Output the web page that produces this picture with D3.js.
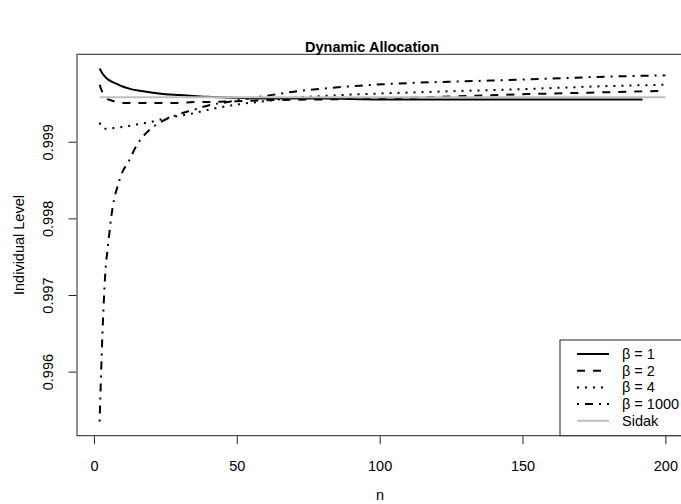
<!DOCTYPE html>
<html><head><meta charset="utf-8">
<script src="https://cdn.jsdelivr.net/npm/d3@7"></script>
<style>body{margin:0;background:#fff}svg{display:block;font-family:"Liberation Sans",Arial,sans-serif}</style>
</head><body><svg id="c" width="681" height="504"></svg>
<script>
const title = "Dynamic Allocation";
const xLabel = "n";
const yLabel = "Individual Level";
const xTicks = [0, 50, 100, 150, 200];
const yTicks = [0.996, 0.997, 0.998, 0.999];

const nBeta1 = [2,3,4,5,6,8,10,13,16,20,25,30,35,40,50,60,80,100,130,160,192];
const vBeta1 = [0.999957,0.999890,0.999845,0.999811,0.999789,0.999755,0.999721,0.999687,0.999665,0.999642,0.999620,0.999609,0.999597,0.999586,0.999575,0.999564,0.999564,0.999553,0.999553,0.999553,0.999553];

const nBeta2 = [2,3,4,5,6,8,10,15,20,25,30,35,40,50,60,80,100,120,150,175,200];
const vBeta2 = [0.999744,0.999642,0.999586,0.999553,0.999541,0.999519,0.999507,0.999507,0.999507,0.999507,0.999507,0.999519,0.999519,0.999530,0.999541,0.999553,0.999564,0.999586,0.999620,0.999642,0.999665];

const nBeta4 = [2,3,4,5,7,10,15,20,25,30,35,40,50,60,70,80,93,110,130,150,175,200];
const vBeta4 = [0.999249,0.999181,0.999170,0.999170,0.999181,0.999193,0.999226,0.999260,0.999305,0.999339,0.999373,0.999418,0.999485,0.999530,0.999575,0.999597,0.999620,0.999642,0.999665,0.999687,0.999721,0.999744];

const nBeta1000 = [2,3,4,5,6,7,8,9,10,12,15,18,23,29,35,40,47,52,58,70,82,93,110,130,150,175,200];
const vBeta1000 = [0.995348,0.996506,0.997293,0.997664,0.998001,0.998237,0.998383,0.998507,0.998608,0.998732,0.998957,0.999103,0.999249,0.999350,0.999418,0.999474,0.999519,0.999553,0.999586,0.999654,0.999699,0.999732,0.999766,0.999789,0.999811,0.999845,0.999867];

const nSidak = [2, 200];
const vSidak = [0.99958, 0.99958];

const seriesNames = ["\u03b2 = 1", "\u03b2 = 2", "\u03b2 = 4", "\u03b2 = 1000", "Sidak"];
const seriesN = [nBeta1, nBeta2, nBeta4, nBeta1000, nSidak];
const seriesV = [vBeta1, vBeta2, vBeta4, vBeta1000, vSidak];
const seriesDash = [null, "8,8", "2,6", "2,6,8,6", null];
const seriesColor = ["#000", "#000", "#000", "#000", "#bebebe"];

const svg = d3.select("#c");
const L = 77, R = 688, T = 54.3, B = 435.7;
const FS = 14.5;

const allN = seriesN.flat(), allV = seriesV.flat();
const [nMin, nMax] = d3.extent(allN), [vMin, vMax] = d3.extent(allV);
const px = (nMax - nMin) * 0.04, py = (vMax - vMin) * 0.04;
const x = d3.scaleLinear().domain([nMin - px, nMax + px]).range([L, R]);
const y = d3.scaleLinear().domain([vMin - py, vMax + py]).range([B, T]);

const line = d3.line().x(d => x(d[0])).y(d => y(d[1])).curve(d3.curveMonotoneX);

seriesN.forEach((ns, i) => {
  const pts = ns.map((n, j) => [n, seriesV[i][j]]);
  svg.append("path").datum(pts).attr("d", line)
    .attr("fill", "none").attr("stroke", seriesColor[i]).attr("stroke-width", 2)
    .attr("stroke-dasharray", seriesDash[i]);
});

// frame
svg.append("rect").attr("x", L).attr("y", T).attr("width", R - L).attr("height", B - T)
  .attr("fill", "none").attr("stroke", "#222").attr("stroke-width", 1);

// axes
const xAxis = svg.append("g").attr("transform", `translate(0,${B + 0.5})`)
  .call(d3.axisBottom(x).tickValues(xTicks).tickSize(8).tickFormat(d3.format("d")));
xAxis.select(".domain").remove();
xAxis.selectAll("text").attr("font-size", FS).attr("fill", "#000").attr("y", 35).attr("dy", 0);
xAxis.selectAll("line").attr("stroke", "#222");

const yAxis = svg.append("g").attr("transform", `translate(${L - 0.5},0)`)
  .call(d3.axisLeft(y).tickValues(yTicks).tickSize(8).tickFormat(d3.format(".3f")));
yAxis.select(".domain").remove();
yAxis.selectAll("line").attr("stroke", "#222");
yAxis.selectAll("text").attr("font-size", FS).attr("fill", "#000")
  .attr("text-anchor", "middle").attr("x", 0).attr("dy", 0)
  .attr("transform", "translate(-23.5,0) rotate(-90)");

svg.append("text").attr("x", 372).attr("y", 52).attr("text-anchor", "middle")
  .attr("font-weight", "bold").attr("font-size", 14.5).text(title);
svg.append("text").attr("x", 380).attr("y", 500).attr("text-anchor", "middle")
  .attr("font-size", FS).text(xLabel);
svg.append("text").attr("transform", `translate(24,${(T + B) / 2}) rotate(-90)`)
  .attr("text-anchor", "middle").attr("font-size", FS).text(yLabel);

// legend
const lg = svg.append("g");
lg.append("rect").attr("x", 560).attr("y", 340).attr("width", R - 560).attr("height", B - 340)
  .attr("fill", "#fff").attr("stroke", "#222");
seriesNames.forEach((name, i) => {
  const yy = 354 + i * 16.7;
  lg.append("line").attr("x1", 577).attr("x2", 609).attr("y1", yy).attr("y2", yy)
    .attr("stroke", seriesColor[i]).attr("stroke-width", 2).attr("stroke-dasharray", seriesDash[i]);
  lg.append("text").attr("x", 622).attr("y", yy + 5).attr("font-size", FS).text(name);
});
</script></body></html>
